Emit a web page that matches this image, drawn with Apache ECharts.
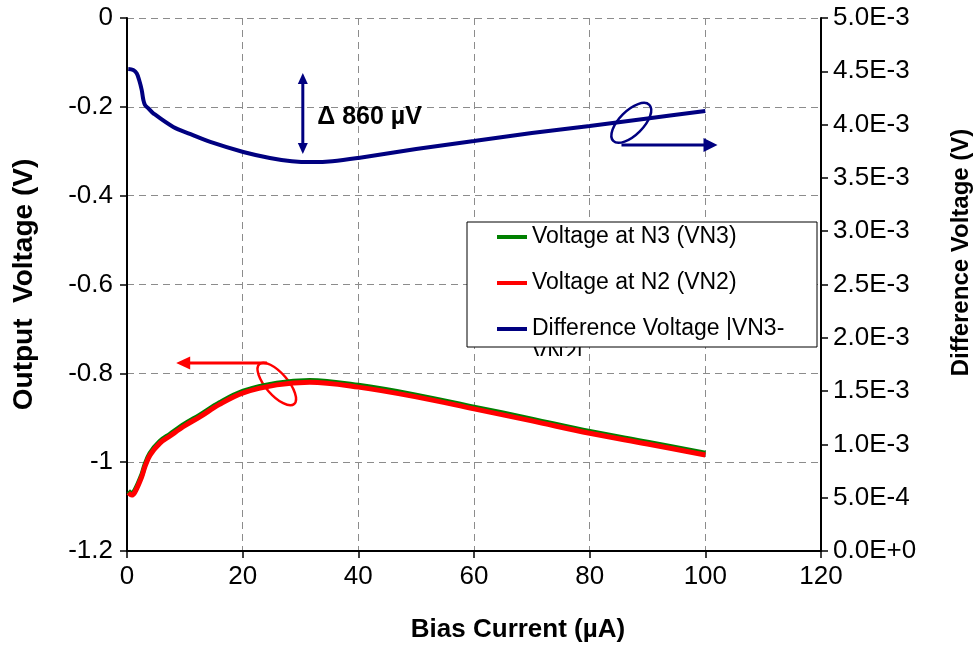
<!DOCTYPE html>
<html><head><meta charset="utf-8">
<script src="https://cdn.jsdelivr.net/npm/echarts@6/dist/echarts.min.js"></script>
<style>html,body{margin:0;padding:0;background:#fff}#c{width:974px;height:648px}</style>
</head><body><div id="c"></div>
<script>
// ---- data ----
const biasVN = [0.22, 0.81, 1.38, 2.54, 3.1, 3.98, 5.7, 7.44, 10, 12.6, 16, 20.1, 25.9, 31.6, 40, 50, 60, 70, 80, 90, 100];
const vn2 = [-1.069, -1.074, -1.067, -1.033, -1.010, -0.984, -0.957, -0.941, -0.918, -0.898, -0.870, -0.844, -0.826, -0.820, -0.831, -0.853, -0.880, -0.907, -0.935, -0.959, -0.984];
const vn3 = [-1.065, -1.070, -1.063, -1.029, -1.006, -0.980, -0.953, -0.937, -0.914, -0.894, -0.866, -0.840, -0.822, -0.816, -0.827, -0.849, -0.876, -0.903, -0.931, -0.955, -0.980];
const biasDiff = [0.22, 1.08, 1.67, 2.1, 2.54, 2.83, 3.11, 3.69, 4.55, 8.0, 11, 14.4, 20.1, 24.7, 28.5, 32, 35.5, 40, 50, 60, 70, 80, 90, 100];
const diffV = [4.522e-3, 4.512e-3, 4.481e-3, 4.418e-3, 4.325e-3, 4.231e-3, 4.184e-3, 4.153e-3, 4.106e-3, 3.978e-3, 3.910e-3, 3.837e-3, 3.743e-3, 3.687e-3, 3.656e-3, 3.648e-3, 3.656e-3, 3.687e-3, 3.771e-3, 3.846e-3, 3.921e-3, 3.987e-3, 4.057e-3, 4.128e-3];
const seriesNames = ['Voltage at N3 (VN3)', 'Voltage at N2 (VN2)', 'Difference Voltage |VN3-VN2|'];
const legendLabels = ['Voltage at N3 (VN3)', 'Voltage at N2 (VN2)', 'Difference Voltage |VN3-'];
const legendOverflow = 'VN2|';
const xAxisTitle = 'Bias Current (µA)';
const yLeftTitle = 'Output  Voltage (V)';
const yRightTitle = 'Difference Voltage (V)';
const deltaText = 'Δ 860 µV';

// annotation anchors in data units (x, left-axis value)
const deltaArrow = {x: 30.4, yTop: -0.124, yBottom: -0.306};
const deltaLabel = {x: 32.9, y: -0.223};
const vnMarker = {cx: 25.9, cy: -0.824, from: 24.2, to: 8.5, y: -0.777};
const diffMarker = {cx: 87.2, cy: -0.236, from: 85.5, to: 102.1, y: -0.286};

const FONT = 'Arial, "Liberation Sans", sans-serif';
const zip = (xs, ys) => xs.map((x, i) => [x, ys[i]]);

const chart = echarts.init(document.getElementById('c'), null, {renderer: 'canvas'});
const axisCommon = {
  axisLine: {show: true, onZero: false, lineStyle: {color: '#000', width: 2}},
  axisTick: {show: true, inside: false, length: 7, lineStyle: {color: '#000', width: 1.5}},
  nameLocation: 'middle'
};
const option = {
  animation: false,
  backgroundColor: '#fff',
  textStyle: {fontFamily: FONT},
  grid: {left: 127, right: 153, top: 18, bottom: 97, containLabel: false, outerBoundsMode: 'none'},
  legend: {
    orient: 'vertical', left: 467, top: 222, z: 6,
    padding: [2, 5, 5, 30], itemGap: 20, itemWidth: 30, itemHeight: 4,
    icon: 'rect', borderColor: '#000', borderWidth: 1, borderRadius: 0, backgroundColor: '#fff',
    data: seriesNames,
    formatter: name => legendLabels[seriesNames.indexOf(name)],
    textStyle: {fontSize: 23, color: '#000', fontFamily: FONT, width: 280, lineHeight: 26, padding: [0,0,0,0]}
  },
  xAxis: Object.assign({}, axisCommon, {
    type: 'value', min: 0, max: 120, interval: 20,
    axisLabel: {fontSize: 26, color: '#000', margin: 13, fontFamily: FONT},
    splitLine: {show: true, lineStyle: {type: [7, 5], color: '#8c8c8c', width: 1}},
    name: xAxisTitle, nameGap: 66,
    nameTextStyle: {fontSize: 26, fontWeight: 'bold', color: '#000', fontFamily: FONT, padding: [0, 0, 0, 88]}
  }),
  yAxis: [
    Object.assign({}, axisCommon, {
      type: 'value', position: 'left', min: -1.2, max: 0, interval: 0.2,
      axisLabel: {fontSize: 26, color: '#000', margin: 14, fontFamily: FONT,
        formatter: v => String(+v.toFixed(1))},
      splitLine: {show: true, lineStyle: {type: [7, 5], color: '#8c8c8c', width: 1}},
      name: yLeftTitle, nameGap: 89,
      nameTextStyle: {fontSize: 28, fontWeight: 'bold', color: '#000', fontFamily: FONT}
    }),
    Object.assign({}, axisCommon, {
      type: 'value', position: 'right', min: 0, max: 0.005, interval: 0.0005,
      axisLabel: {fontSize: 26, color: '#000', margin: 12, fontFamily: FONT,
        formatter: v => v.toExponential(1).replace('e', 'E')},
      splitLine: {show: false},
      name: yRightTitle, nameGap: 128,
      nameTextStyle: {fontSize: 24, fontWeight: 'bold', color: '#000', fontFamily: FONT, padding: [0, 0, 0, 64]}
    })
  ],
  series: [
    {name: seriesNames[0], type: 'line', data: zip(biasVN, vn3), showSymbol: false, symbol: 'none',
      smooth: 0.35, lineStyle: {color: '#008000', width: 5}, itemStyle: {color: '#008000'}, z: 2},
    {name: seriesNames[1], type: 'line', data: zip(biasVN, vn2), showSymbol: false, symbol: 'none',
      smooth: 0.35, lineStyle: {color: '#ff0000', width: 5}, itemStyle: {color: '#ff0000'}, z: 3},
    {name: seriesNames[2], type: 'line', yAxisIndex: 1, data: zip(biasDiff, diffV), showSymbol: false, symbol: 'none',
      smooth: 0.35, lineStyle: {color: '#000080', width: 4}, itemStyle: {color: '#000080'}, z: 3}
  ]
};
chart.setOption(option);

// ---- annotations placed through the axes ----
const px = (x, y) => chart.convertToPixel({xAxisIndex: 0, yAxisIndex: 0}, [x, y]);
const els = [];
const navy = '#000080', red = '#ff0000';
// double arrow
{
  const t = px(deltaArrow.x, deltaArrow.yTop), b = px(deltaArrow.x, deltaArrow.yBottom);
  els.push({type: 'line', shape: {x1: t[0], y1: t[1] + 8, x2: b[0], y2: b[1] - 8}, style: {stroke: navy, lineWidth: 3}});
  els.push({type: 'polygon', shape: {points: [[t[0], t[1]], [t[0] - 5, t[1] + 11], [t[0] + 5, t[1] + 11]]}, style: {fill: navy}});
  els.push({type: 'polygon', shape: {points: [[b[0], b[1]], [b[0] - 5, b[1] - 11], [b[0] + 5, b[1] - 11]]}, style: {fill: navy}});
  const l = px(deltaLabel.x, deltaLabel.y);
  els.push({type: 'text', x: l[0], y: l[1], style: {text: deltaText, fontSize: 25, fontWeight: 'bold', fontFamily: FONT, fill: '#000', align: 'left', verticalAlign: 'middle'}});
}
// red marker (points to left axis)
{
  const c = px(vnMarker.cx, vnMarker.cy), a = px(vnMarker.from, vnMarker.y), tip = px(vnMarker.to, vnMarker.y);
  els.push({type: 'ellipse', x: c[0], y: c[1], rotation: -49 * Math.PI / 180, shape: {cx: 0, cy: 0, rx: 26.5, ry: 11}, style: {fill: 'none', stroke: red, lineWidth: 2.5}});
  els.push({type: 'line', shape: {x1: a[0], y1: a[1], x2: tip[0] + 12, y2: tip[1]}, style: {stroke: red, lineWidth: 3}});
  els.push({type: 'polygon', shape: {points: [[tip[0], tip[1]], [tip[0] + 14, tip[1] - 6.5], [tip[0] + 14, tip[1] + 6.5]]}, style: {fill: red}});
}
// navy marker (points to right axis)
{
  const c = px(diffMarker.cx, diffMarker.cy), a = px(diffMarker.from, diffMarker.y), tip = px(diffMarker.to, diffMarker.y);
  els.push({type: 'ellipse', x: c[0], y: c[1], rotation: 45 * Math.PI / 180, shape: {cx: 0, cy: 0, rx: 25.5, ry: 12}, style: {fill: 'none', stroke: navy, lineWidth: 2.5}});
  els.push({type: 'line', shape: {x1: a[0], y1: a[1], x2: tip[0] - 12, y2: tip[1]}, style: {stroke: navy, lineWidth: 3}});
  els.push({type: 'polygon', shape: {points: [[tip[0], tip[1]], [tip[0] - 14, tip[1] - 7], [tip[0] - 14, tip[1] + 7]]}, style: {fill: navy}});
}
// wrapped remainder of the third legend label, mostly hidden under the legend box
{
  const boxLeft = option.legend.left, boxTop = option.legend.top;
  els.push({type: 'text', x: boxLeft + 65, y: boxTop + 120, z: 1,
    style: {text: legendOverflow, fontSize: 23, fontFamily: FONT, fill: '#000', align: 'left', verticalAlign: 'top'}});
  els.push({type: 'rect', z: 1, shape: {x: boxLeft + 62, y: boxTop + 134, width: 60, height: 16}, style: {fill: '#fff'}});
}
chart.setOption({graphic: {elements: els}});
</script>
</body></html>
